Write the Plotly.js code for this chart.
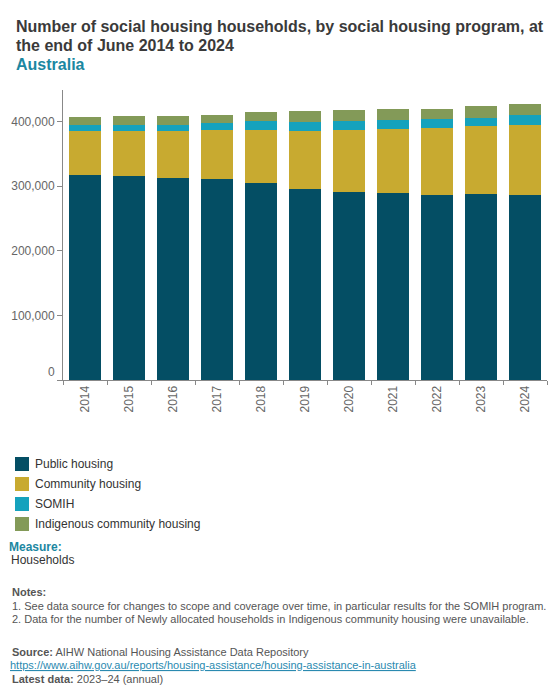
<!DOCTYPE html>
<html>
<head>
<meta charset="utf-8">
<script src="https://cdn.plot.ly/plotly-3.0.1.min.js"></script>
<style>
  html, body { margin: 0; padding: 0; background: #fff; }
  #chart { width: 560px; height: 700px; }
</style>
</head>
<body>
<div id="chart"></div>
<script>
// ---- Data ----
const years = ['2014', '2015', '2016', '2017', '2018', '2019', '2020', '2021', '2022', '2023', '2024'];
const seriesNames = ['Public housing', 'Community housing', 'SOMIH', 'Indigenous community housing'];
const publicHousing = [317300, 315800, 312700, 311100, 304900, 295500, 291000, 289500, 286400, 287900, 286400];
const communityHousing = [68100, 69600, 72700, 75800, 82000, 89900, 96000, 99000, 103700, 105300, 108300];
const somih = [9300, 9300, 9300, 10900, 13900, 13900, 13900, 13900, 13900, 12400, 15500];
const indigenousCommunityHousing = [12400, 13900, 13900, 12400, 13900, 17000, 17000, 17000, 15500, 18600, 17000];
const yTickValues = [0, 100000, 200000, 300000, 400000];
const yTickLabels = ['', '100,000', '200,000', '300,000', '400,000'];

// ---- Styling ----
const seriesColors = ['#044e64', '#c8aa30', '#15a2bd', '#839a58'];
const FONT = 'Arial, "Liberation Sans", sans-serif';
const W = 560, H = 700;
const M = { l: 63, r: 13, t: 90, b: 320 };
const PW = W - M.l - M.r, PH = H - M.t - M.b;
const px = x => (x - M.l) / PW;
const py = y => (H - M.b - y) / PH;

const seriesValues = [publicHousing, communityHousing, somih, indigenousCommunityHousing];
const traces = seriesValues.map((vals, i) => ({
  type: 'bar',
  name: seriesNames[i],
  x: years,
  y: vals,
  marker: { color: seriesColors[i], line: { width: 0 } },
  hovertemplate: '%{x}<br>' + seriesNames[i] + ': %{y:,}<extra></extra>'
}));

const annotations = [];
const shapes = [];
function addText(text, x, y, size, color, opts) {
  annotations.push(Object.assign({
    text: text, xref: 'paper', yref: 'paper', x: px(x), y: py(y),
    xanchor: 'left', yanchor: 'middle', showarrow: false,
    font: { family: FONT, size: size, color: color }, align: 'left'
  }, opts || {}));
}

// Title lines
addText('<b>Number of social housing households, by social housing program, at</b>', 14, 26, 16, '#3a3a3a');
addText('<b>the end of June 2014 to 2024</b>', 14, 45.5, 16, '#3a3a3a');
addText('<b>Australia</b>', 14, 64, 16, '#1c87a1');

// zero label of the y axis sits slightly above the baseline in the reference
addText('0', 57, 372, 12, '#666666', { xanchor: 'right' });

// Legend (custom, below chart)
seriesNames.forEach((name, i) => {
  const cy = 464 + 20 * i;
  shapes.push({
    type: 'rect', xref: 'paper', yref: 'paper',
    x0: px(15), x1: px(29), y0: py(cy - 7), y1: py(cy + 7),
    fillcolor: seriesColors[i], line: { width: 0 }
  });
  addText(name, 32.5, cy, 12, '#333333');
});

// Measure
addText('<b>Measure:</b>', 7, 546.5, 12, '#1c87a1');
addText('Households', 9, 560, 12, '#333333');

// Notes & source
addText('<b>Notes:</b>', 10, 592, 11, '#555555');
addText('1. See data source for changes to scope and coverage over time, in particular results for the SOMIH program.', 10, 605.5, 11, '#555555');
addText('2. Data for the number of Newly allocated households in Indigenous community housing were unavailable.', 10, 618.5, 11, '#555555');
addText('<b>Source:</b> AIHW National Housing Assistance Data Repository', 10, 651.5, 11, '#555555');
addText('<span style="text-decoration:underline">https://www.aihw.gov.au/reports/housing-assistance/housing-assistance-in-australia</span>', 8, 665, 11, '#2a8ab0');
addText('<b>Latest data:</b> 2023–24 (annual)', 10, 679, 11, '#555555');

const layout = {
  width: W, height: H,
  margin: M,
  paper_bgcolor: '#ffffff', plot_bgcolor: '#ffffff',
  font: { family: FONT, size: 12, color: '#333333' },
  barmode: 'stack',
  bargap: 0.257,
  showlegend: false,
  xaxis: {
    type: 'category',
    showline: true, linecolor: '#888888', linewidth: 1,
    ticks: 'outside', tickson: 'boundaries', ticklen: 4, tickcolor: '#888888',
    tickangle: -90,
    tickfont: { family: FONT, size: 12, color: '#666666' },
    showgrid: false, zeroline: false, fixedrange: true
  },
  yaxis: {
    range: [0, 449000],
    showline: true, linecolor: '#888888', linewidth: 1,
    ticks: 'outside', ticklen: 5, tickcolor: '#888888',
    tickmode: 'array', tickvals: yTickValues, ticktext: yTickLabels,
    tickfont: { family: FONT, size: 12, color: '#666666' },
    showgrid: false, zeroline: false, fixedrange: true
  },
  annotations: annotations,
  shapes: shapes
};

Plotly.newPlot('chart', traces, layout, { displayModeBar: false });
</script>
</body>
</html>
